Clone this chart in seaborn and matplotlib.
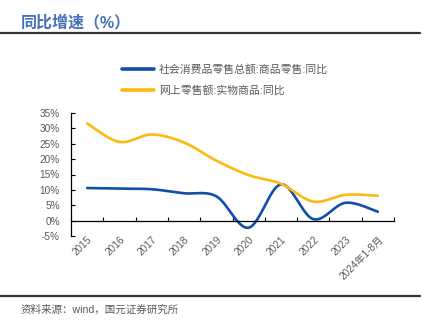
import numpy as np
import pandas as pd
import matplotlib
matplotlib.use("Agg")
import matplotlib.pyplot as plt
import seaborn as sns
from matplotlib.lines import Line2D

sns.set_theme(style="white")
plt.rcParams["font.family"] = ["Liberation Sans", "Noto Sans CJK SC"]

# Year-on-year growth rates (%)
categories = ["2015", "2016", "2017", "2018", "2019", "2020", "2021", "2022", "2023", "2024年1-8月"]
retail_goods = [10.6, 10.4, 10.2, 8.9, 7.9, -2.3, 11.8, 0.5, 5.8, 2.9]
online_physical = [31.6, 25.6, 28.0, 25.4, 19.5, 14.8, 12.0, 6.2, 8.4, 8.1]
series_names = ["社会消费品零售总额:商品零售:同比", "网上零售额:实物商品:同比"]
colors = ["#0F4FA8", "#FDB813"]
yticks = [-5, 0, 5, 10, 15, 20, 25, 30, 35]


def smooth(xs, ys, n=40):
    """Catmull-Rom curve through the points (smoothed line style)."""
    p = np.column_stack([xs, ys]).astype(float)
    p = np.vstack([p[0], p, p[-1]])
    out = []
    for i in range(1, len(p) - 2):
        p0, p1, p2, p3 = p[i - 1], p[i], p[i + 1], p[i + 2]
        t = np.linspace(0, 1, n, endpoint=False)[:, None]
        seg = 0.5 * ((2 * p1) + (-p0 + p2) * t
                     + (2 * p0 - 5 * p1 + 4 * p2 - p3) * t ** 2
                     + (-p0 + 3 * p1 - 3 * p2 + p3) * t ** 3)
        out.append(seg)
    out.append(p[-2][None, :])
    return np.vstack(out)


xpos = np.arange(len(categories)) + 0.5
frames = []
for name, vals in zip(series_names, [retail_goods, online_physical]):
    c = smooth(xpos, vals)
    frames.append(pd.DataFrame({"x": c[:, 0], "y": c[:, 1], "series": name}))
df = pd.concat(frames, ignore_index=True)

fig = plt.figure(figsize=(4.26, 3.27), dpi=100)
ax = fig.add_axes([71 / 426, 1 - 236 / 327, (394 - 71) / 426, (236 - 113) / 327])

sns.lineplot(data=df, x="x", y="y", hue="series", palette=colors, sort=False,
             estimator=None, linewidth=1.9, ax=ax, legend=False)

ax.set_xlim(0, len(categories))
ax.set_ylim(-5, 35)
ax.set_xlabel("")
ax.set_ylabel("")

# y axis
ax.set_yticks(yticks)
ax.set_yticklabels([f"{v}%" for v in yticks])
ax.tick_params(axis="y", direction="in", length=3, width=0.8, color="black",
               labelsize=7.2, labelcolor="#595959", pad=8, left=True)

# x axis on the zero line, category boundaries as ticks
ax.spines["bottom"].set_position(("data", 0))
ax.spines["top"].set_visible(False)
ax.spines["right"].set_visible(False)
for s in ["left", "bottom"]:
    ax.spines[s].set_color("black")
    ax.spines[s].set_linewidth(0.9)
ax.set_xticks(np.arange(len(categories) + 1))
ax.set_xticklabels([])
ax.set_xticks(xpos, minor=True)
ax.set_xticklabels(categories, minor=True, rotation=45, ha="right",
                   rotation_mode="anchor")
ax.tick_params(axis="x", which="major", direction="in", length=3, width=0.8,
               color="black", bottom=True)
ax.tick_params(axis="x", which="minor", length=0, labelsize=7.2,
               labelcolor="#595959", pad=10)

# legend
handles = [Line2D([], [], color=c, linewidth=2.6) for c in colors]
fig.legend(handles, series_names, loc="upper left",
           bbox_to_anchor=(112 / 426, 1 - 54 / 327), frameon=False,
           fontsize=7.8, labelcolor="#595959", handlelength=3.0,
           handletextpad=0.4, labelspacing=0.95)

# header, rules and source note
fig.text(21 / 426, 1 - 27 / 327, "同比增速（%）", color="#4470B5", fontsize=11.5,
         fontweight="bold", ha="left", va="baseline")
fig.add_artist(Line2D([0, 420 / 426], [1 - 33 / 327] * 2, color="#333333",
                      linewidth=1.6, transform=fig.transFigure))
fig.add_artist(Line2D([0, 420 / 426], [1 - 296 / 327] * 2, color="#333333",
                      linewidth=1.6, transform=fig.transFigure))
fig.text(21 / 426, 1 - 313 / 327, "资料来源：wind，国元证券研究所", color="#595959",
         fontsize=7.6, ha="left", va="baseline")

fig.savefig("out.png", dpi=100)
